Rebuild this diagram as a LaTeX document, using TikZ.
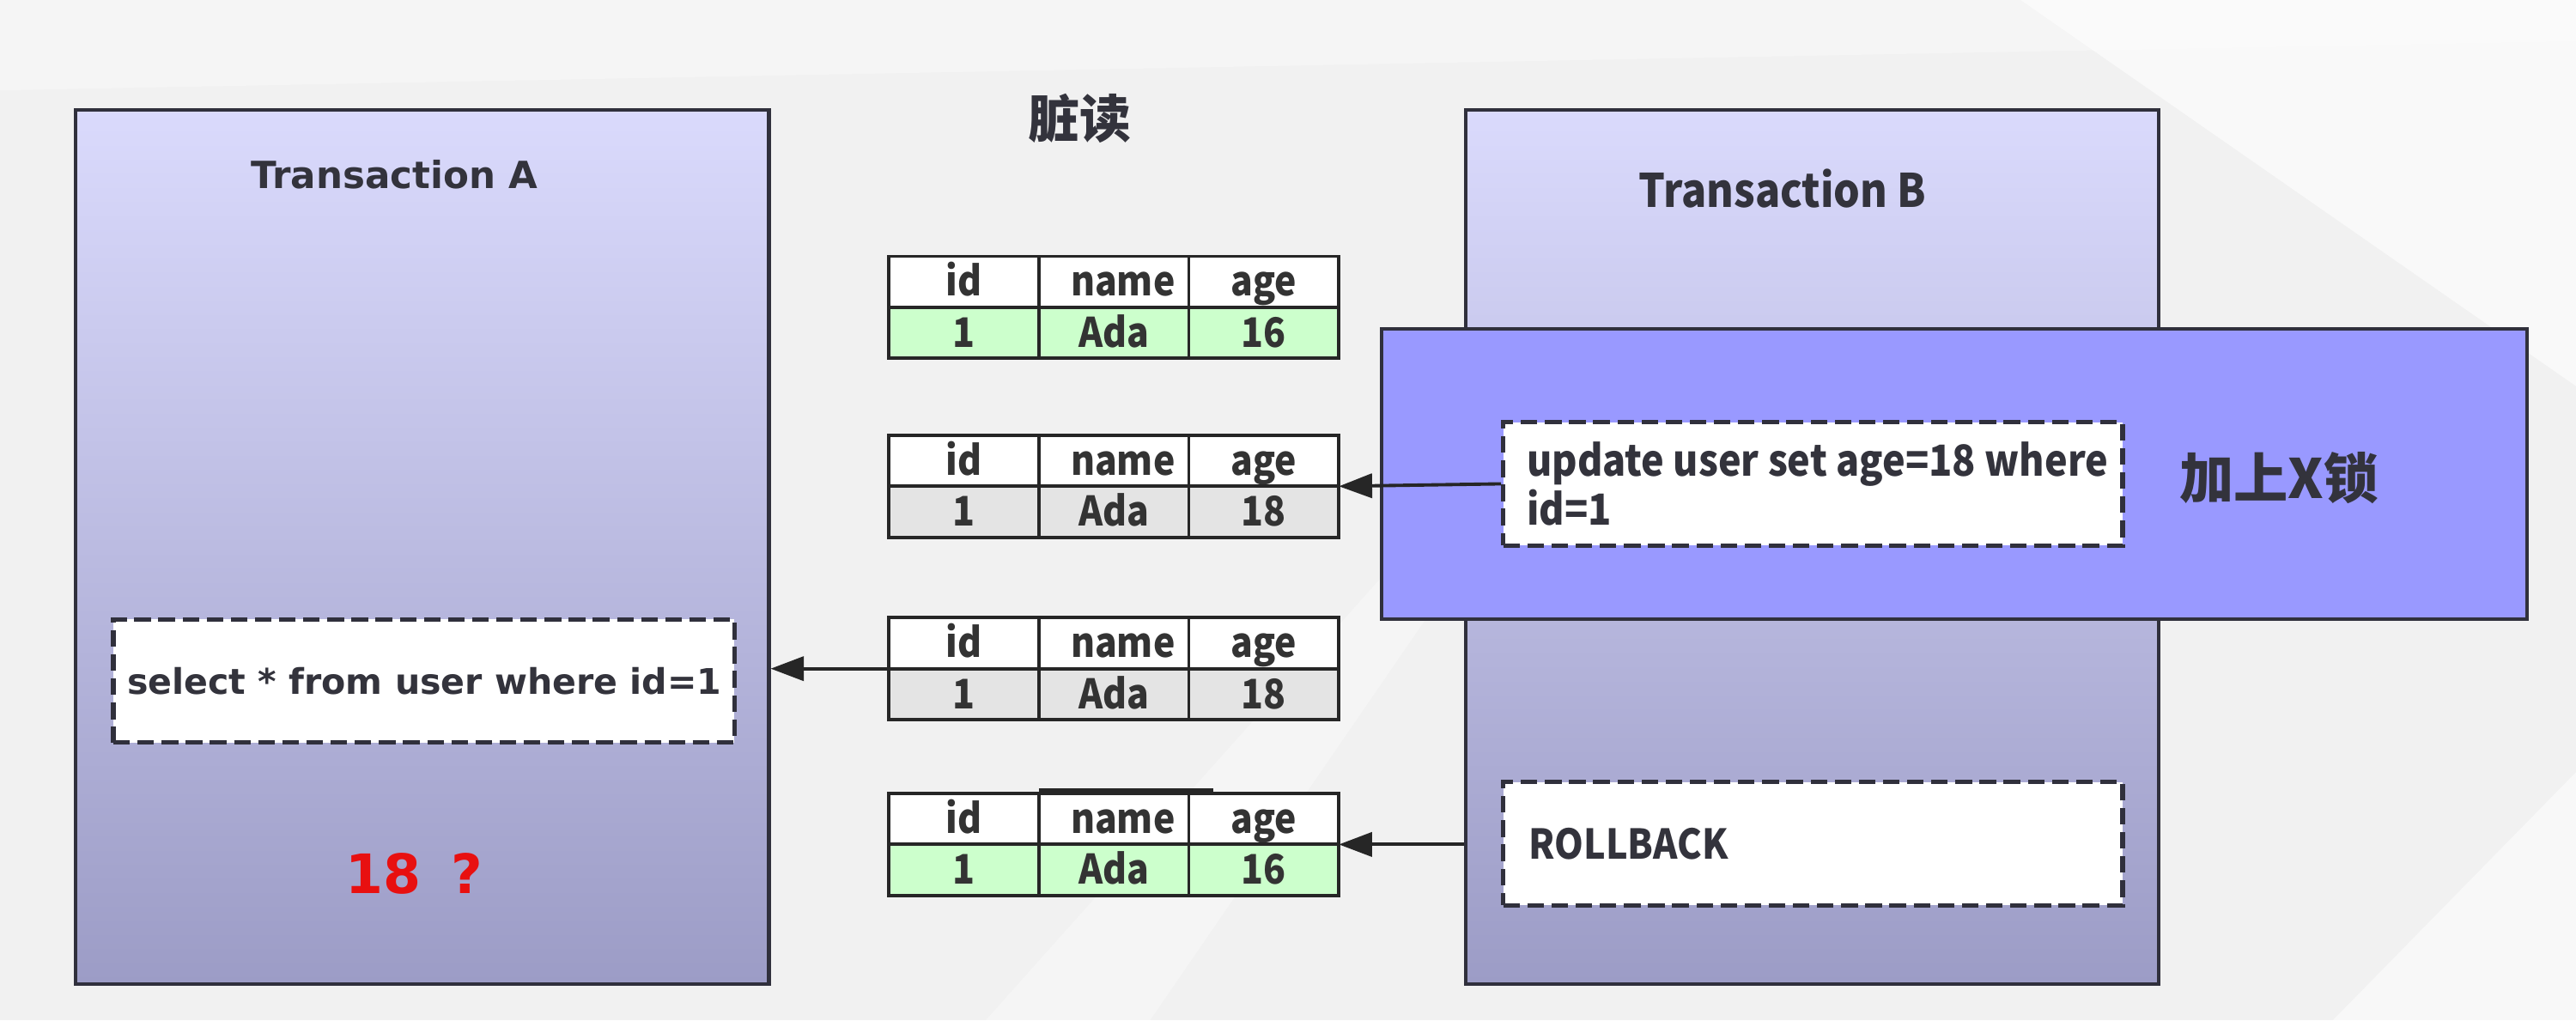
\documentclass[tikz,border=0pt]{standalone}
\usepackage{fontspec}
\setmainfont{DejaVu Sans}
\newfontfamily\cjk{Noto Sans CJK SC}
\newfontfamily\cjknarrow{Noto Sans CJK SC}[FakeStretch=0.9]
\usetikzlibrary{positioning,fit,arrows.meta}

\definecolor{bgcol}{RGB}{241,241,241}
\definecolor{txtop}{RGB}{218,218,252}
\definecolor{txbot}{RGB}{156,156,198}
\definecolor{lockcol}{RGB}{153,153,255}
\definecolor{edgecol}{RGB}{48,48,60}
\definecolor{rowgreen}{RGB}{204,255,204}
\definecolor{rowgrey}{RGB}{228,228,228}
\definecolor{inkcol}{RGB}{51,51,60}
\definecolor{warnred}{RGB}{232,16,16}

\tikzset{
  txbox/.style={draw=edgecol, line width=1.2pt, top color=txtop, bottom color=txbot, inner sep=0pt},
  lockbox/.style={draw=edgecol, line width=1.2pt, fill=lockcol, inner sep=0pt},
  sqlbox/.style={draw=edgecol, line width=1.5pt, dash pattern=on 5.5pt off 2.5pt, fill=white, inner sep=0pt},
  txtitle/.style={text=inkcol, inner sep=0pt, font=\bfseries\fontsize{12.4}{14}\selectfont},
  sqltext/.style={text=inkcol, anchor=west, inner sep=0pt, align=left},
  cell/.style={draw=black!85, line width=1.1pt, minimum width=1.7475cm, minimum height=0.593cm,
    inner sep=0pt, outer sep=0pt, text height=11.5pt, text depth=2pt, text=black!80,
    font=\cjknarrow\bfseries\fontsize{13.5}{14}\selectfont},
  link/.style={draw=black!85, line width=1.1pt, -{Triangle[length=11pt,width=8pt]}},
}

\begin{document}
\begin{tikzpicture}[x=0.019133cm, y=-0.019133cm]
  \useasboundingbox (0,0) rectangle (1568,621);
  % background
  \fill[bgcol] (0,0) rectangle (1568,621);
  \fill[white, opacity=0.6] (1230,0) -- (1568,0) -- (1568,235) -- cycle;
  \fill[white, opacity=0.3] (0,0) -- (1568,0) -- (1568,25) -- (0,55) -- cycle;
  \fill[white, opacity=0.3] (600,621) -- (860,330) -- (900,330) -- (700,621) -- cycle;
  \fill[white, opacity=0.5] (1420,621) -- (1568,470) -- (1568,621) -- cycle;

  % transaction A
  \node[txbox, fit={(46,67) (468,599)}] (ta) {};
  \node[txtitle] (ta-title) at (240,106) {Transaction A};
  \node[sqlbox, fit={(69,377) (447,452)}] (sel) {};
  \node[sqltext, font=\bfseries\fontsize{11.7}{13}\selectfont] (sel-text) at (77,414.5) {select * from user where id=1};
  \node[text=warnred, font=\bfseries\fontsize{18}{20}\selectfont] (guess) at (252,532) {18\hspace{0.55em}?};

  % transaction B
  \node[txbox, fit={(892,67) (1314,599)}] (tb) {};
  \node[txtitle, font=\cjknarrow\bfseries\fontsize{15.3}{16}\selectfont] (tb-title) at (1085,115) {Transaction B};
  \node[lockbox, fit={(841,200) (1538,377)}] (lock) {};
  \node[text=inkcol, font=\cjk\bfseries\fontsize{18}{20}\selectfont] (lock-label) at (1387,291) {加上X锁};
  \node[sqlbox, fit={(915,257) (1292,332)}] (upd) {};
  \node[sqltext, font=\cjknarrow\bfseries\fontsize{14.2}{14.7}\selectfont] (upd-text) at (929,294.5) {update user set age=18 where\\id=1};
  \node[sqlbox, fit={(915,476) (1292,551)}] (rb) {};
  \node[sqltext, font=\cjknarrow\bfseries\fontsize{13.6}{15}\selectfont] (rb-text) at (930,513.5) {ROLLBACK};

  % title
  \node[text=inkcol, font=\cjk\bfseries\fontsize{17}{19}\selectfont] (heading) at (657,72) {脏读};

  % row versions
  \foreach \t/\ty/\age/\rowcol in {1/156/16/rowgreen,2/265/18/rowgrey,3/376/18/rowgrey,4/483/16/rowgreen}{
    \node[cell, fill=white, anchor=north west] (t\t-id) at (541,\ty) {id};
    \node[cell, fill=white, right=0pt of t\t-id] (t\t-name) {\hspace{6pt}name};
    \node[cell, fill=white, right=0pt of t\t-name] (t\t-age) {age};
    \node[cell, fill=\rowcol, below=0pt of t\t-id] (t\t-v1) {1};
    \node[cell, fill=\rowcol, below=0pt of t\t-name] (t\t-v2) {Ada};
    \node[cell, fill=\rowcol, below=0pt of t\t-age] (t\t-v3) {\age};
    \coordinate (t\t-w) at (t\t-id.south west);
    \coordinate (t\t-e) at (t\t-age.south east);
  }
  \draw[black!85, line width=1.1pt] ([yshift=1.2pt]t4-name.north west) -- ++(106,0);

  % arrows
  \draw[link] (upd.west) -- (t2-e);
  \draw[link] (t3-w) -- (ta.east |- t3-w);
  \draw[link] (tb.west |- t4-e) -- (t4-e);
\end{tikzpicture}
\end{document}
